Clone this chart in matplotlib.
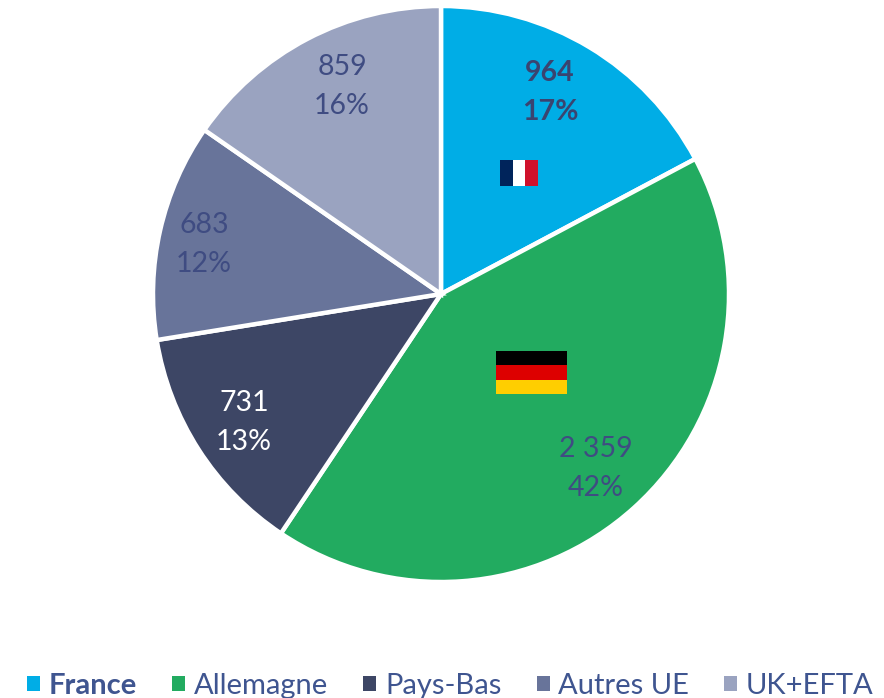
import matplotlib
matplotlib.use("Agg")
import matplotlib.pyplot as plt
from matplotlib.patches import Rectangle

categories = ["France", "Allemagne", "Pays-Bas", "Autres UE", "UK+EFTA"]
values = [964, 2359, 731, 683, 859]
value_labels = ["964", "2 359", "731", "683", "859"]
pct_labels = ["17%", "42%", "13%", "12%", "16%"]
colors = ["#00ADE6", "#22AB60", "#3D4665", "#68749A", "#9AA3C0"]
label_colors = ["#3A4470", "#3F4C82", "#FFFFFF", "#3F4C82", "#3F4C82"]
label_weights = ["bold", "normal", "normal", "normal", "normal"]
label_xy = [(550, 92.5), (596, 468.5), (244, 422.5), (204, 244.5), (342, 86.5)]

plt.rcParams["font.family"] = ["Lato", "DejaVu Sans"]
H = 698
fig = plt.figure(figsize=(8.84, 6.98), dpi=100)
ax = fig.add_axes([0, 0, 1, 1])

wedges, _ = ax.pie(
    values, colors=colors, startangle=90, counterclock=False,
    center=(441, H - 294), radius=288, frame=True,
    wedgeprops=dict(edgecolor="white", linewidth=3.2),
)
ax.set_xlim(0, 884)
ax.set_ylim(0, H)
ax.set_aspect("auto")
ax.axis("off")

for (x, y), v, p, c, w in zip(label_xy, value_labels, pct_labels, label_colors, label_weights):
    ax.text(x, H - y, f"{v}\n{p}", ha="center", va="center", color=c,
            fontweight=w, fontsize=20.5, linespacing=1.6)

def flag(x0, y0, w, h, cols, vertical):
    n = len(cols)
    for i, col in enumerate(cols):
        if vertical:
            ax.add_patch(Rectangle((x0 + i * w / n, H - y0 - h), w / n, h, fc=col, ec="none", zorder=5))
        else:
            ax.add_patch(Rectangle((x0, H - y0 - (i + 1) * h / n), w, h / n, fc=col, ec="none", zorder=5))

flag(500, 160, 38, 26, ["#00245B", "#FFFFFF", "#D0112B"], True)
flag(496, 351, 71, 43, ["#000000", "#DD0000", "#FFCE00"], False)

leg = ax.legend(
    wedges, categories, loc="lower left", bbox_to_anchor=(27 / 884, -1 / H),
    bbox_transform=fig.transFigure, ncol=5, frameon=False, fontsize=21,
    handlelength=0.45, handleheight=0.45, handletextpad=0.3, columnspacing=1.2,
    borderpad=0, borderaxespad=0,
)
for h in leg.legend_handles:
    h.set_edgecolor("none")
    h.set_linewidth(0)
for t in leg.get_texts():
    t.set_color("#3F5590")
leg.get_texts()[0].set_fontweight("bold")

fig.savefig("out.png", dpi=100)
